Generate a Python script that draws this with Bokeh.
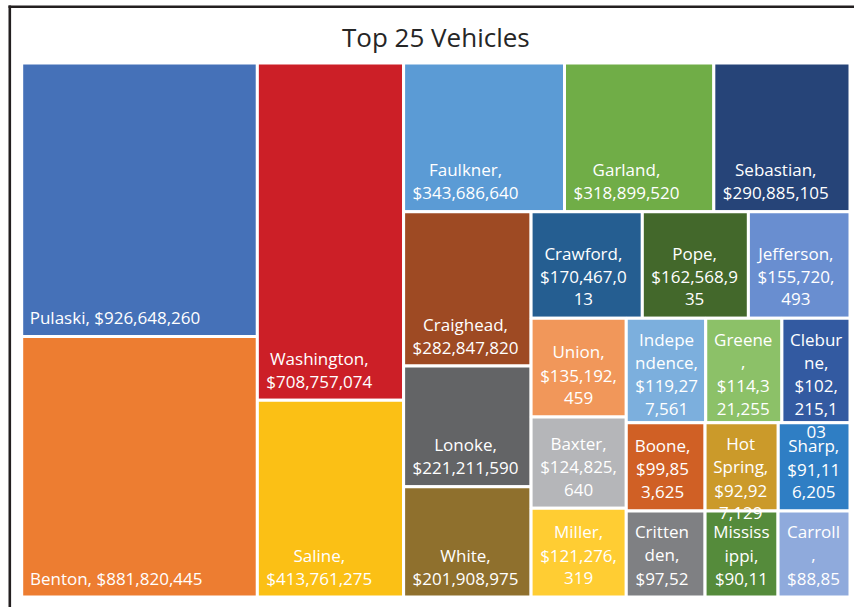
from bokeh.plotting import figure
from bokeh.models import ColumnDataSource, Range1d
from bokeh.core.properties import value
from bokeh.embed import file_html
from bokeh.resources import INLINE

# ---------------- data ----------------
title_text = "Top 25 Vehicles"
counties = ["Pulaski", "Benton", "Washington", "Saline", "Faulkner", "Garland",
            "Sebastian", "Craighead", "Lonoke", "White", "Crawford", "Pope",
            "Jefferson", "Union", "Baxter", "Miller", "Independence", "Greene",
            "Cleburne", "Boone", "Crittenden", "Hot Spring", "Sharp",
            "Mississippi", "Carroll"]
amounts = [926648260, 881820445, 708757074, 413761275, 343686640, 318899520,
           290885105, 282847820, 221211590, 201908975, 170467013, 162568935,
           155720493, 135192459, 124825640, 121276319, 119277561, 114321255,
           102215103, 99853625, 97525000, 92927129, 91116205,
           90115000, 88855000]
tile_colors = ["#4571B8", "#ED7D31", "#CC1F27", "#FBC015", "#5B9BD5", "#70AD47",
               "#264478", "#9E4A23", "#636466", "#8F702D", "#255E91", "#43682B",
               "#698ED0", "#F1975A", "#B5B6B9", "#FFCD33", "#7CAFDD", "#8CC168",
               "#335AA1", "#D06025", "#7F8083", "#CB9A2A", "#2F7EC4",
               "#558B3B", "#8FAADC"]

# ---------------- layout geometry (pixels) ----------------
FIG_W, FIG_H = 854, 607
OFF_X, OFF_Y = 21.2, 62.5          # plot area offset inside canvas
PW, PH = 828.3, 534.0              # plot area size
TARGET = 1.04


def squarify(vals, x0, y0, w, h, target=TARGET):
    rects = []
    n = len(vals)
    i = 0
    while i < n:
        rem = float(sum(vals[i:]))
        scale = w * h / rem
        vertical = w >= h
        L = h if vertical else w

        def score(ssum, v):
            t = ssum * scale / L
            ln = v / ssum * L
            s = t / ln
            return max(s / target, target / s)

        ssum = vals[i]
        last = score(ssum, vals[i])
        j = i + 1
        while j < n:
            new = score(ssum + vals[j], vals[j])
            if new > last:
                break
            ssum += vals[j]
            last = new
            j += 1
        t = ssum * scale / L
        pos = 0.0
        for k in range(i, j):
            ln = vals[k] / ssum * L
            if vertical:
                rects.append((x0, y0 + pos, t, ln))
            else:
                rects.append((x0 + pos, y0, ln, t))
            pos += ln
        if vertical:
            x0 += t
            w -= t
        else:
            y0 += t
            h -= t
        i = j
    return rects


rects = squarify(amounts, 0.0, 0.0, PW, PH)

# ---------------- label wrapping ----------------
EMW = {" ": .226, ",": .250, "$": .507, "a": .479, "b": .525, "c": .423, "d": .525,
       "e": .498, "f": .305, "g": .471, "h": .525, "i": .229, "j": .239, "k": .455,
       "l": .229, "m": .799, "n": .525, "o": .527, "p": .525, "r": .349, "s": .391,
       "t": .335, "u": .525, "v": .452, "w": .715, "x": .433, "y": .453, "z": .395,
       "B": .544, "C": .533, "F": .459, "G": .631, "H": .623, "I": .252, "J": .319,
       "L": .420, "M": .855, "P": .517, "S": .459, "U": .642, "W": .890}
for d in "0123456789":
    EMW[d] = .507
REF_SIZE = 19.0


def tw(s):
    return sum(EMW.get(c, .5) for c in s) * REF_SIZE


def wrap(text, avail):
    lines, cur = [], ""
    for word in text.split(" "):
        cand = word if not cur else cur + " " + word
        if tw(cand) <= avail:
            cur = cand
            continue
        if cur:
            lines.append(cur)
            cur = ""
        while tw(word) > avail and len(word) > 1:
            k = len(word)
            while k > 1 and tw(word[:k]) > avail:
                k -= 1
            lines.append(word[:k])
            word = word[k:]
        cur = word
    if cur:
        lines.append(cur)
    return lines


PAD_WRAP, PAD_X = 8.3, 9.0
LINE, TOP_BASE, BOT_BASE = 23.2, 27.0, 12.7
CAP_MID = 6.1   # baseline -> visual middle of the capitals

tx, ty, tt = [], [], []
for (x, y, w, h), name, amt in zip(rects, counties, amounts):
    label = f"{name}, ${amt:,}"
    lines = wrap(label, w - 2 * PAD_WRAP)
    bw = max(tw(l) for l in lines)
    cx = x + PAD_X + bw / 2
    n = len(lines)
    if n * LINE + (TOP_BASE + BOT_BASE - LINE) > h:
        first = y + TOP_BASE
    else:
        first = y + h - BOT_BASE - (n - 1) * LINE
    for m, line in enumerate(lines):
        mid = first + m * LINE - CAP_MID
        if mid > PH:          # hidden below the plot area, as in the original
            continue
        tx.append(cx)
        ty.append(mid)
        tt.append(line)

tiles = ColumnDataSource(dict(
    left=[r[0] for r in rects], right=[r[0] + r[2] for r in rects],
    top=[r[1] for r in rects], bottom=[r[1] + r[3] for r in rects],
    color=tile_colors, name=counties, amount=amounts))
labels = ColumnDataSource(dict(x=tx, y=ty, text=tt))

# ---------------- figure ----------------
p = figure(width=FIG_W, height=FIG_H, output_backend="svg", toolbar_location=None,
           x_axis_location=None, y_axis_location=None, min_border=0,
           x_range=Range1d(-OFF_X, FIG_W - OFF_X),
           y_range=Range1d(FIG_H - OFF_Y, -OFF_Y))
p.grid.visible = False
p.outline_line_color = None
p.background_fill_color = "white"
p.border_fill_color = "white"

p.quad(left="left", right="right", top="top", bottom="bottom", source=tiles,
       fill_color="color", line_color="white", line_width=3)

p.text(x="x", y="y", text="text", source=labels, text_font=value("Open Sans"),
       text_font_size="17px", text_color="#FFFFFF", text_align="center",
       text_baseline="middle")

# clip overflow below the plot area
xr0, xr1 = -OFF_X, FIG_W - OFF_X
p.quad(left=[xr0], right=[xr1], top=[PH], bottom=[FIG_H - OFF_Y],
       fill_color="white", line_color=None)

# chart-area border (left and top)
bx = xr0 + 9.3
by = -OFF_Y + 6.2
p.segment(x0=[bx, bx - 1.3], y0=[by - 1.3, by],
          x1=[bx, xr1], y1=[FIG_H - OFF_Y, by],
          line_color="#231F20", line_width=2.6)

p.text(x=[PW / 2], y=[36.7 - OFF_Y], text=[title_text], text_font=value("Open Sans"),
       text_font_size="26px", text_color="#262626", text_align="center",
       text_baseline="middle")

open("out.html", "w").write(file_html(p, INLINE))
